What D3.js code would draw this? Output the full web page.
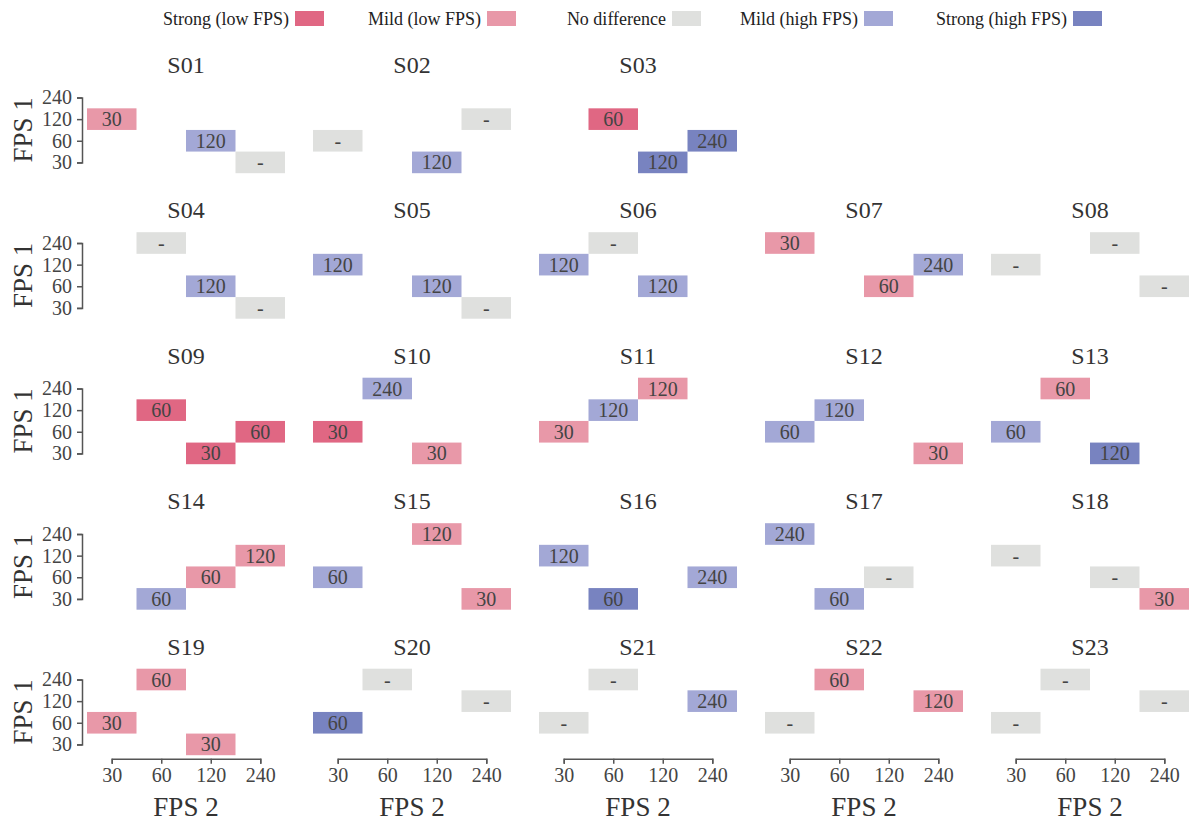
<!DOCTYPE html>
<html>
<head>
<meta charset="utf-8">
<script src="https://cdn.jsdelivr.net/npm/d3@7"></script>
<style>
  body { margin: 0; background: #fff; }
  svg { display: block; font-family: "Liberation Serif", "Times New Roman", serif; }
</style>
</head>
<body>
<svg id="chart" width="1192" height="825"></svg>
<script>
// Frame-rate levels compared in each session
const fpsLevels = ["30", "60", "120", "240"];

// Preference categories, in legend order
const categories = ["Strong (low FPS)", "Mild (low FPS)", "No difference", "Mild (high FPS)", "Strong (high FPS)"];
const categoryColors = ["#e06783", "#e898a8", "#dfe0de", "#a3a8d6", "#7883c0"];

// Subjects, laid out row by row
const subjects = ["S01","S02","S03","S04","S05","S06","S07","S08","S09","S10","S11","S12",
                  "S13","S14","S15","S16","S17","S18","S19","S20","S21","S22","S23"];
// Grid slot of each subject (row-major, 5 per row)
const slots = [0,1,2,5,6,7,8,9,10,11,12,13,14,15,16,17,18,19,20,21,22,23,24];

// Comparisons: [subject, FPS 1, FPS 2, preferred label, category index]
const comparisons = [
  ["S01","120","30","30",1], ["S01","60","120","120",3], ["S01","30","240","-",2],
  ["S02","60","30","-",2], ["S02","120","240","-",2], ["S02","30","120","120",3],
  ["S03","120","60","60",0], ["S03","60","240","240",4], ["S03","30","120","120",4],
  ["S04","240","60","-",2], ["S04","60","120","120",3], ["S04","30","240","-",2],
  ["S05","120","30","120",3], ["S05","60","120","120",3], ["S05","30","240","-",2],
  ["S06","240","60","-",2], ["S06","120","30","120",3], ["S06","60","120","120",3],
  ["S07","240","30","30",1], ["S07","120","240","240",3], ["S07","60","120","60",1],
  ["S08","240","120","-",2], ["S08","120","30","-",2], ["S08","60","240","-",2],
  ["S09","120","60","60",0], ["S09","60","240","60",0], ["S09","30","120","30",0],
  ["S10","240","60","240",3], ["S10","60","30","30",0], ["S10","30","120","30",1],
  ["S11","240","120","120",1], ["S11","120","60","120",3], ["S11","60","30","30",1],
  ["S12","120","60","120",3], ["S12","60","30","60",3], ["S12","30","240","30",1],
  ["S13","240","60","60",1], ["S13","60","30","60",3], ["S13","30","120","120",4],
  ["S14","120","240","120",1], ["S14","60","120","60",1], ["S14","30","60","60",3],
  ["S15","240","120","120",1], ["S15","60","30","60",3], ["S15","30","240","30",1],
  ["S16","120","30","120",3], ["S16","60","240","240",3], ["S16","30","60","60",4],
  ["S17","240","30","240",3], ["S17","60","120","-",2], ["S17","30","60","60",3],
  ["S18","120","30","-",2], ["S18","60","120","-",2], ["S18","30","240","30",1],
  ["S19","240","60","60",1], ["S19","60","30","30",1], ["S19","30","120","30",1],
  ["S20","240","60","-",2], ["S20","120","240","-",2], ["S20","60","30","60",4],
  ["S21","240","60","-",2], ["S21","120","240","240",3], ["S21","60","30","-",2],
  ["S22","240","60","60",1], ["S22","120","240","120",1], ["S22","60","30","-",2],
  ["S23","240","60","-",2], ["S23","120","240","-",2], ["S23","60","30","-",2]
];

const svg = d3.select("#chart");
const nCols = 5, nRows = 5;
const panelW = 198, panelH = 86.5;
const originX = 87, originY = 86.7;
const pitchX = 226, pitchY = 145.5;
const textColor = "#444";
const axisColor = "#555";
const serif = "Liberation Serif, Times New Roman, serif";

const color = d3.scaleOrdinal().domain(d3.range(categories.length)).range(categoryColors);

// Band scales for tile placement inside a panel
const x = d3.scaleBand().domain(fpsLevels).range([0, panelW]).padding(0);
const y = d3.scaleBand().domain(fpsLevels.slice().reverse()).range([0, panelH]).padding(0);
// Point scales for axes (domain line spans first to last tick)
const xp = d3.scalePoint().domain(fpsLevels).range([x.bandwidth() / 2, panelW - x.bandwidth() / 2]);
const yp = d3.scalePoint().domain(fpsLevels.slice().reverse()).range([y.bandwidth() / 2, panelH - y.bandwidth() / 2]);

subjects.forEach((s, i) => {
  const slot = slots[i];
  const col = slot % nCols, row = Math.floor(slot / nCols);
  const g = svg.append("g")
    .attr("transform", `translate(${originX + col * pitchX},${originY + row * pitchY})`);

  g.append("text")
    .attr("x", panelW / 2)
    .attr("y", -14)
    .attr("text-anchor", "middle")
    .attr("font-size", 24)
    .attr("fill", "#333")
    .text(s);

  const cells = comparisons.filter(d => d[0] === s);
  const cell = g.selectAll("g.cell").data(cells).join("g").attr("class", "cell");
  cell.append("rect")
    .attr("x", d => x(d[2]))
    .attr("y", d => y(d[1]))
    .attr("width", x.bandwidth())
    .attr("height", y.bandwidth())
    .attr("fill", d => color(d[4]));
  cell.append("text")
    .attr("x", d => x(d[2]) + x.bandwidth() / 2)
    .attr("y", d => y(d[1]) + y.bandwidth() / 2)
    .attr("dy", "0.35em")
    .attr("text-anchor", "middle")
    .attr("font-size", 20)
    .attr("fill", textColor)
    .text(d => d[3]);

  // Y axis on the first column
  if (col === 0) {
    const ya = g.append("g")
      .attr("transform", "translate(-5,0)")
      .call(d3.axisLeft(yp).tickSizeOuter(0).tickSize(5).tickPadding(5));
    ya.attr("font-family", serif);
    ya.select(".domain").attr("stroke", axisColor).attr("stroke-width", 1.5);
    ya.selectAll(".tick line").attr("stroke", axisColor).attr("stroke-width", 1.5);
    ya.selectAll(".tick text").attr("font-size", 20).attr("fill", textColor);
    g.append("text")
      .attr("transform", `translate(-55,${panelH / 2}) rotate(-90)`)
      .attr("text-anchor", "middle")
      .attr("font-size", 27)
      .attr("fill", "#333")
      .text("FPS 1");
  }

  // X axis on the bottom row
  if (row === nRows - 1) {
    const xa = g.append("g")
      .attr("transform", `translate(0,${panelH + 3.5})`)
      .call(d3.axisBottom(xp).tickSizeOuter(0).tickSize(5).tickPadding(4));
    xa.attr("font-family", serif);
    xa.select(".domain").attr("stroke", axisColor).attr("stroke-width", 1.5);
    xa.selectAll(".tick line").attr("stroke", axisColor).attr("stroke-width", 1.5);
    xa.selectAll(".tick text").attr("font-size", 20).attr("fill", textColor);
    g.append("text")
      .attr("x", panelW / 2)
      .attr("y", panelH + 61)
      .attr("text-anchor", "middle")
      .attr("font-size", 27)
      .attr("fill", "#333")
      .text("FPS 2");
  }
});

// Legend along the top
const legendSwatchX = [295, 487, 672, 864, 1073];
const legend = svg.append("g").selectAll("g").data(categories).join("g");
legend.append("rect")
  .attr("x", (d, i) => legendSwatchX[i])
  .attr("y", 11)
  .attr("width", 29)
  .attr("height", 15)
  .attr("fill", (d, i) => color(i));
legend.append("text")
  .attr("x", (d, i) => legendSwatchX[i] - 6)
  .attr("y", 18.5)
  .attr("dy", "0.35em")
  .attr("text-anchor", "end")
  .attr("font-size", 18)
  .attr("fill", "#222")
  .text(d => d);
</script>
</body>
</html>
